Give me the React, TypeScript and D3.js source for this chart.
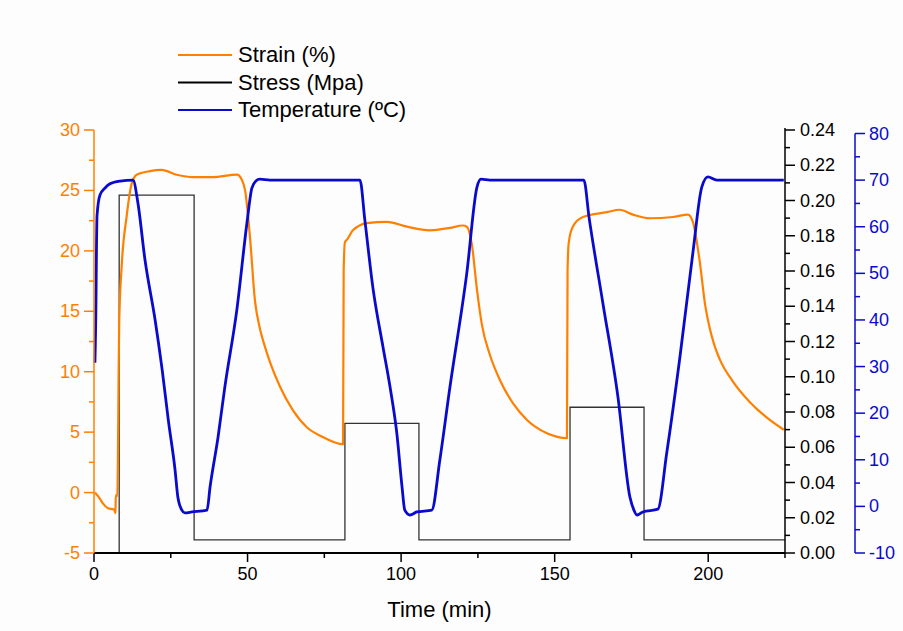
import React from "react";
import * as d3 from "d3";

// ---- Data (time in min) ----
const strainData: [number, number][] = [
  [0.3, 0.0], [1.9, -0.5], [2.9, -0.9], [4.6, -1.3], [6.5, -1.4], [7.0, -1.7],
  [7.1, -0.2], [7.6, -0.3], [7.8, 3.1], [8.0, 9.3], [8.2, 14.0], [9.0, 18.7],
  [10.6, 22.8], [12.3, 25.6], [13.9, 26.3], [18.2, 26.6], [22.0, 26.7], [26.9, 26.3],
  [32.3, 26.1], [38.7, 26.1], [46.5, 26.3], [48.1, 25.9], [49.2, 25.0], [50.8, 21.1],
  [52.4, 15.9], [54.0, 13.6], [55.5, 12.2], [57.3, 10.8], [60.5, 8.8], [64.8, 6.8],
  [69.3, 5.4], [74.5, 4.6], [81.1, 4.0], [81.3, 18.4], [81.7, 20.7], [82.6, 21.0],
  [84.3, 21.7], [88.9, 22.3], [95.4, 22.4], [101.9, 22.0], [109.4, 21.7], [115.9, 21.9],
  [120.1, 22.1], [121.4, 22.0], [123.0, 20.6], [124.7, 16.8], [126.3, 13.9], [128.9, 11.4],
  [132.2, 9.3], [136.4, 7.4], [141.0, 6.0], [147.5, 4.9], [154.0, 4.5], [154.2, 18.4],
  [154.6, 20.7], [155.9, 22.0], [159.2, 22.8], [167.0, 23.2], [171.2, 23.4], [175.5, 23.0],
  [181.0, 22.7], [188.5, 22.8], [193.4, 23.0], [195.0, 22.4], [197.3, 19.0], [198.9, 15.7],
  [200.5, 13.6], [202.0, 12.2], [203.8, 11.0], [208.0, 9.2], [213.5, 7.5], [219.1, 6.2],
  [224.6, 5.2],
];

const stressData: [number, number][] = [
  [0, 0], [8.2, 0.203], [32.6, 0.0074], [81.7, 0.0736], [105.8, 0.0074],
  [155.0, 0.0827], [179.1, 0.0074], [225, 0.0074],
];

const tempData: [number, number][] = [
  [0.3, 30.8], [0.65, 44.3], [0.8, 55.0], [1.0, 62.5], [1.95, 66.8], [3.6, 68.3],
  [5.2, 69.2], [8.5, 69.8], [12.7, 70.0], [14.3, 65.1], [16.6, 52.9], [19.9, 40.0],
  [22.2, 29.3], [24.2, 18.5], [26.4, 7.8], [27.3, 2.0], [28.6, -0.8], [29.6, -1.4],
  [31.9, -1.2], [36.8, -0.8], [37.8, 4.2], [40.4, 14.9], [42.6, 25.6], [46.5, 42.1],
  [49.8, 60.8], [51.4, 68.3], [52.7, 69.8], [54.0, 70.2], [57.3, 70.0], [86.6, 70.0],
  [88.2, 61.4], [90.8, 47.0], [94.1, 34.2], [96.4, 25.6], [98.6, 15.7], [100.3, 4.2],
  [101.2, -0.8], [102.9, -1.85], [105.1, -1.2], [110.0, -0.8], [112.6, 9.9], [115.9, 25.6],
  [121.4, 50.1], [124.7, 68.5], [126.0, 70.2], [128.9, 70.0], [159.5, 70.0], [161.2, 62.0],
  [165.7, 43.6], [170.6, 23.5], [174.5, 2.0], [175.8, -0.8], [176.8, -1.85], [178.7, -1.2],
  [183.6, -0.6], [186.5, 11.5], [190.8, 32.1], [195.0, 54.4], [197.9, 68.5], [199.9, 70.7],
  [202.8, 70.0], [224.6, 70.0],
];

const xTicks = [0, 50, 100, 150, 200];
const xMinor = [25, 75, 125, 175, 225];
const strainTicks = [-5, 0, 5, 10, 15, 20, 25, 30];
const strainMinor = [-2.5, 2.5, 7.5, 12.5, 17.5, 22.5, 27.5];
const stressTicks = [0, 0.02, 0.04, 0.06, 0.08, 0.1, 0.12, 0.14, 0.16, 0.18, 0.2, 0.22, 0.24];
const stressMinor = [0.01, 0.03, 0.05, 0.07, 0.09, 0.11, 0.13, 0.15, 0.17, 0.19, 0.21, 0.23];
const tempTicks = [-10, 0, 10, 20, 30, 40, 50, 60, 70, 80];
const tempMinor = [-5, 5, 15, 25, 35, 45, 55, 65, 75];

const legendItems = ["Strain (%)", "Stress (Mpa)", "Temperature (ºC)"];

const ORANGE = "#ff8000";
const BLUE = "#0a0acc";
const BLACK = "#000";
const FONT = "'Liberation Sans', Arial, sans-serif";

export default function App() {
  const W = 903, H = 631;
  const left = 94, right = 785, top = 130, bottom = 553;
  const x = d3.scaleLinear().domain([0, 225]).range([left, right]);
  const yStrain = d3.scaleLinear().domain([-5, 30]).range([bottom, top]);
  const yStress = d3.scaleLinear().domain([0, 0.24]).range([bottom, top]);
  const yTemp = d3.scaleLinear().domain([-10, 80]).range([bottom, 133.5]);
  const tempAxisX = 855;

  const strainLine = d3.line<[number, number]>().x(d => x(d[0])).y(d => yStrain(d[1])).curve(d3.curveMonotoneX);
  const stressLine = d3.line<[number, number]>().x(d => x(d[0])).y(d => yStress(d[1])).curve(d3.curveStepAfter);
  const tempLine = d3.line<[number, number]>().x(d => x(d[0])).y(d => yTemp(d[1])).curve(d3.curveMonotoneX);

  const legendColors = [ORANGE, BLACK, BLUE];
  const legendY = [55, 82.5, 110];

  return (
    <svg width={W} height={H} style={{ position: "absolute", left: 0, top: 0, background: "#fff" }} fontFamily={FONT}>
      <rect x={0} y={0} width={W} height={H} fill="#fdfdfd" />
      {/* series */}
      <path d={stressLine(stressData) || ""} fill="none" stroke="#333" strokeWidth={1.3} />
      <path d={strainLine(strainData) || ""} fill="none" stroke={ORANGE} strokeWidth={2.2} strokeLinejoin="round" />
      <path d={tempLine(tempData) || ""} fill="none" stroke={BLUE} strokeWidth={2.8} strokeLinejoin="round" />

      {/* bottom axis */}
      <line x1={left} x2={right} y1={bottom} y2={bottom} stroke={BLACK} strokeWidth={2} />
      {xTicks.map(t => (
        <g key={"xt" + t}>
          <line x1={x(t)} x2={x(t)} y1={bottom} y2={bottom + 9} stroke={BLACK} strokeWidth={1.5} />
          <text x={x(t)} y={580} textAnchor="middle" fontSize={18} fill={BLACK}>{t}</text>
        </g>
      ))}
      {xMinor.map(t => (
        <line key={"xm" + t} x1={x(t)} x2={x(t)} y1={bottom} y2={bottom + 5} stroke={BLACK} strokeWidth={1.5} />
      ))}
      <text x={(left + right) / 2} y={617} textAnchor="middle" fontSize={22} fill={BLACK}>Time (min)</text>

      {/* left strain axis */}
      <line x1={left} x2={left} y1={top} y2={bottom} stroke={ORANGE} strokeWidth={1.5} />
      {strainTicks.map(v => (
        <g key={"st" + v}>
          <line x1={left - 10} x2={left} y1={yStrain(v)} y2={yStrain(v)} stroke={ORANGE} strokeWidth={1.5} />
          <text x={left - 14} y={yStrain(v) + 6} textAnchor="end" fontSize={18} fill={ORANGE}>{v}</text>
        </g>
      ))}
      {strainMinor.map(v => (
        <line key={"sm" + v} x1={left - 5} x2={left} y1={yStrain(v)} y2={yStrain(v)} stroke={ORANGE} strokeWidth={1.5} />
      ))}

      {/* right stress axis */}
      <line x1={right} x2={right} y1={top - 2} y2={bottom} stroke={BLACK} strokeWidth={1.5} />
      {stressTicks.map(v => (
        <g key={"pt" + v}>
          <line x1={right} x2={right + 10} y1={yStress(v)} y2={yStress(v)} stroke={BLACK} strokeWidth={1.5} />
          <text x={right + 15} y={yStress(v) + 6} textAnchor="start" fontSize={18} fill={BLACK}>{v.toFixed(2)}</text>
        </g>
      ))}
      {stressMinor.map(v => (
        <line key={"pm" + v} x1={right} x2={right + 5} y1={yStress(v)} y2={yStress(v)} stroke={BLACK} strokeWidth={1.5} />
      ))}

      {/* right temperature axis */}
      <line x1={tempAxisX} x2={tempAxisX} y1={133.5} y2={bottom} stroke={BLUE} strokeWidth={1.5} />
      {tempTicks.map(v => (
        <g key={"tt" + v}>
          <line x1={tempAxisX} x2={tempAxisX + 10} y1={yTemp(v)} y2={yTemp(v)} stroke={BLUE} strokeWidth={1.5} />
          <text x={tempAxisX + 14} y={yTemp(v) + 6} textAnchor="start" fontSize={18} fill={BLUE}>{v}</text>
        </g>
      ))}
      {tempMinor.map(v => (
        <line key={"tm" + v} x1={tempAxisX} x2={tempAxisX + 5} y1={yTemp(v)} y2={yTemp(v)} stroke={BLUE} strokeWidth={1.5} />
      ))}

      {/* legend */}
      {legendItems.map((name, i) => (
        <g key={name}>
          <line x1={178} x2={232} y1={legendY[i]} y2={legendY[i]} stroke={legendColors[i]} strokeWidth={2} />
          <text x={238} y={legendY[i] + 7} fontSize={22} fill={BLACK}>{name}</text>
        </g>
      ))}
    </svg>
  );
}
